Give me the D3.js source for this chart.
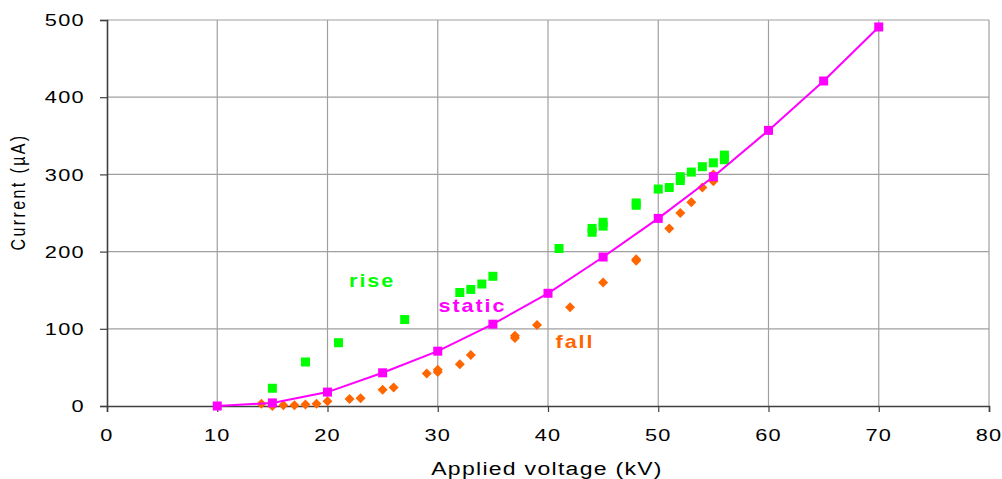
<!DOCTYPE html>
<html>
<head>
<meta charset="utf-8">
<script src="https://cdn.jsdelivr.net/npm/d3@7"></script>
<style>
  html, body { margin: 0; padding: 0; background: #fff; }
  svg { display: block; }
  text { font-family: "Liberation Sans", Arial, sans-serif; }
</style>
</head>
<body>
<svg id="chart" width="1002" height="479"></svg>
<script>
// Static I-V characteristic (line + square markers)
const staticV = [10, 15, 20, 25, 30, 35, 40, 45, 50, 55, 60, 65, 70];
const staticI = [0, 4, 18, 43, 71, 106, 146, 193, 243, 297, 357, 421, 491];

// Measurements taken while the voltage was rising
const riseV = [15, 18, 21, 27, 32, 33, 34, 35, 41, 44, 44, 45, 45, 48, 48, 50, 51, 52, 52, 53, 54, 55, 56, 56];
const riseI = [23, 57, 82, 112, 147, 151, 158, 168, 204, 225, 230, 233, 238, 260, 263, 281, 283, 292, 297, 303, 310, 315, 319, 325];

// Measurements taken while the voltage was falling
const fallV = [14, 15, 16, 17, 18, 19, 20, 22, 23, 25, 26, 29, 30, 30, 32, 33, 37, 37, 39, 42, 45, 48, 48, 51, 52, 53, 54, 55, 55];
const fallI = [3, 0, 1, 1, 2, 3, 6, 9, 10, 21, 24, 42, 44, 47, 54, 66, 88, 91, 105, 128, 160, 188, 190, 230, 250, 264, 283, 291, 300];

// Axis ticks
const xTicks = [0, 10, 20, 30, 40, 50, 60, 70, 80];
const yTicks = [0, 100, 200, 300, 400, 500];

// Series names
const seriesNames = ["rise", "static", "fall"];

const colors = { rise: "#00ff00", static: "#ff00ff", fall: "#ff6600" };

const svg = d3.select("#chart");
const x = d3.scaleLinear().domain([0, 80]).range([107, 989]);
const y = d3.scaleLinear().domain([0, 500]).range([406, 20]);

const font = "Liberation Sans, Arial, sans-serif";
const stretch = 1.28;

// Gridlines
svg.append("g").selectAll("line").data(xTicks.slice(1)).join("line")
  .attr("x1", d => x(d)).attr("x2", d => x(d))
  .attr("y1", y(0)).attr("y2", y(500))
  .attr("stroke", "#a0a0a0").attr("stroke-width", 1.2);
svg.append("g").selectAll("line").data(yTicks.slice(1)).join("line")
  .attr("x1", x(0)).attr("x2", x(80))
  .attr("y1", d => y(d)).attr("y2", d => y(d))
  .attr("stroke", "#a0a0a0").attr("stroke-width", 1.2);

// Axes
const xAxis = d3.axisBottom(x).tickValues(xTicks).tickSize(6).tickFormat("");
const yAxis = d3.axisLeft(y).tickValues(yTicks).tickSize(7).tickFormat("");
const gx = svg.append("g").attr("transform", `translate(0,${y(0)})`).call(xAxis);
const gy = svg.append("g").attr("transform", `translate(${x(0)},0)`).call(yAxis);
[gx, gy].forEach(g => {
  g.select(".domain").attr("stroke", "#404040").attr("stroke-width", 1.6);
  g.selectAll(".tick line").attr("stroke", "#404040").attr("stroke-width", 1.2);
});

// Tick labels (slightly widened glyphs)
svg.append("g").selectAll("g").data(xTicks).join("g")
  .attr("transform", d => `translate(${x(d)},435) scale(${stretch},1)`)
  .append("text")
  .attr("text-anchor", "middle").attr("dy", "0.36em")
  .attr("font-size", 17).attr("letter-spacing", 1).attr("fill", "#000")
  .text(d => d);
svg.append("g").selectAll("g").data(yTicks).join("g")
  .attr("transform", d => `translate(85,${y(d)}) scale(${stretch},1)`)
  .append("text")
  .attr("text-anchor", "end").attr("dy", "0.36em")
  .attr("font-size", 17).attr("letter-spacing", 1).attr("fill", "#000")
  .text(d => d);

// Axis titles
svg.append("g").attr("transform", `translate(547,475) scale(${stretch},1)`)
  .append("text").attr("text-anchor", "middle")
  .attr("font-size", 18).attr("letter-spacing", 1).attr("fill", "#000")
  .text("Applied voltage (kV)");
svg.append("g").attr("transform", `translate(25,192) rotate(-90) scale(1,${stretch})`)
  .append("text").attr("text-anchor", "middle")
  .attr("font-size", 16).attr("letter-spacing", 2.4).attr("fill", "#000")
  .text("Current (\u00b5A)");

// Falling-voltage points (diamonds)
const dia = 5;
svg.append("g").selectAll("path").data(fallV.map((v, i) => [v, fallI[i]])).join("path")
  .attr("d", d => {
    const cx = x(d[0]), cy = y(d[1]);
    return `M${cx},${cy - dia}L${cx + dia},${cy}L${cx},${cy + dia}L${cx - dia},${cy}Z`;
  })
  .attr("fill", colors.fall);

// Rising-voltage points (squares)
const sq = 9;
svg.append("g").selectAll("rect").data(riseV.map((v, i) => [v, riseI[i]])).join("rect")
  .attr("x", d => x(d[0]) - sq / 2).attr("y", d => y(d[1]) - sq / 2)
  .attr("width", sq).attr("height", sq)
  .attr("fill", colors.rise);

// Static curve
const line = d3.line().x(d => x(d[0])).y(d => y(d[1]));
const staticPts = staticV.map((v, i) => [v, staticI[i]]);
svg.append("path").datum(staticPts)
  .attr("d", line).attr("fill", "none")
  .attr("stroke", colors.static).attr("stroke-width", 2);
const ssq = 9;
svg.append("g").selectAll("rect").data(staticPts).join("rect")
  .attr("x", d => x(d[0]) - ssq / 2).attr("y", d => y(d[1]) - ssq / 2)
  .attr("width", ssq).attr("height", ssq)
  .attr("fill", colors.static);

// Series labels, placed in data units
const labelPos = { rise: [24.05, 154], static: [33.15, 122], fall: [42.45, 75] };
svg.append("g").selectAll("g").data(seriesNames).join("g")
  .attr("transform", d => `translate(${x(labelPos[d][0])},${y(labelPos[d][1])}) scale(1.2,1)`)
  .append("text")
  .attr("text-anchor", "middle")
  .attr("font-size", 18).attr("font-weight", "bold").attr("letter-spacing", 1.6)
  .attr("fill", d => colors[d])
  .text(d => d);
</script>
</body>
</html>
